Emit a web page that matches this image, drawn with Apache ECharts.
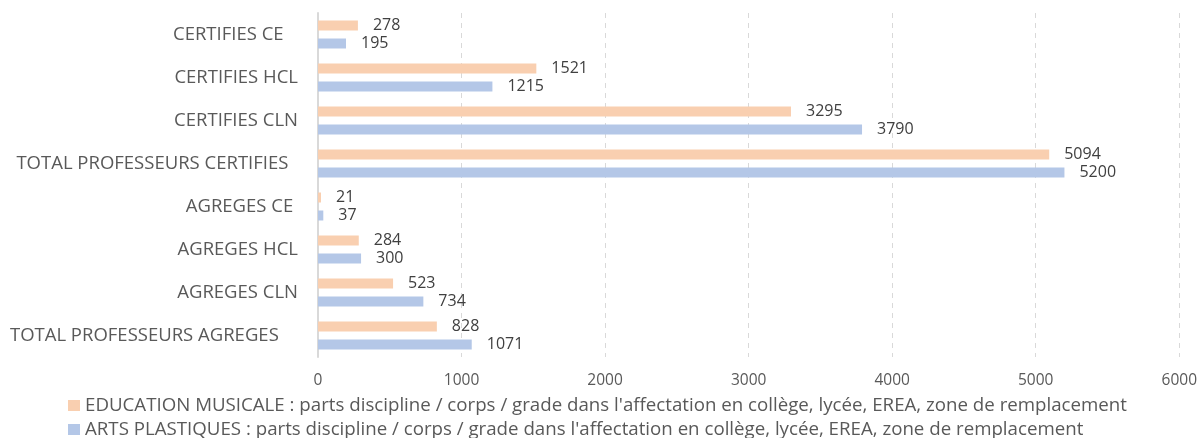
<!DOCTYPE html>
<html>
<head>
<meta charset="utf-8">
<script src="https://cdn.jsdelivr.net/npm/echarts@6/dist/echarts.min.js"></script>
<style>
  html, body { margin: 0; padding: 0; background: #fff; }
  #bars { width: 1200px; height: 438px; }
</style>
</head>
<body>
<div id="bars"></div>
<script>
// categories, bottom to top (ECharts category y axis starts at the bottom)
var categories = [
    'TOTAL PROFESSEURS AGREGES    ',
    'AGREGES CLN',
    'AGREGES HCL',
    'AGREGES CE ',
    'TOTAL PROFESSEURS CERTIFIES  ',
    'CERTIFIES CLN',
    'CERTIFIES HCL',
    'CERTIFIES CE   '
];
var musique = [828, 523, 284, 21, 5094, 3295, 1521, 278];
var artsPlastiques = [1071, 734, 300, 37, 5200, 3790, 1215, 195];
var seriesNames = [
    "EDUCATION MUSICALE : parts discipline / corps / grade dans l'affectation en collège, lycée, EREA, zone de remplacement",
    "ARTS PLASTIQUES : parts discipline / corps / grade dans l'affectation en collège, lycée, EREA, zone de remplacement"
];

(function drawBars() {
    var chartDom = document.getElementById('bars');
    var myChart = echarts.init(chartDom);
    var font = "'Open Sans', sans-serif";
    var option;

    var barLabel = {
        show: true,
        position: 'right',
        distance: 15,
        color: '#404040',
        fontSize: 16,
        fontFamily: font
    };

    // one legend per line, like the original
    function legendRow(name, top) {
        return {
            left: 63,
            top: top,
            itemWidth: 12,
            itemHeight: 11,
            icon: 'rect',
            textStyle: { color: '#595959', fontSize: 18.7, fontFamily: font },
            data: [name]
        };
    }

    option = {
        color: ['#F9CFB0', '#B4C7E7'],
        animation: false,
        textStyle: { fontFamily: font },
        legend: [
            legendRow(seriesNames[0], 391),
            legendRow(seriesNames[1], 415)
        ],
        grid: {
            left: 318,
            right: 19,
            top: 13,
            bottom: 81,
            containLabel: false
        },
        xAxis: {
            type: 'value',
            min: 0,
            max: 6000,
            interval: 1000,
            axisLine: { show: false },
            axisTick: { show: false },
            axisLabel: {
                color: '#595959',
                fontSize: 15.5,
                margin: 16,
                formatter: function (v) { return String(v); }
            },
            splitLine: {
                lineStyle: { color: '#d9d9d9', type: [5, 5], width: 1 }
            }
        },
        yAxis: {
            type: 'category',
            data: categories,
            axisLine: { show: true, lineStyle: { color: '#d9d9d9', width: 2 } },
            axisTick: { show: false },
            axisLabel: { color: '#595959', fontSize: 18.5, margin: 20 }
        },
        series: [
            {
                name: seriesNames[0],
                type: 'bar',
                barWidth: 10,
                barGap: '80%',
                label: barLabel,
                data: musique,
                z: 3
            },
            {
                name: seriesNames[1],
                type: 'bar',
                barWidth: 10,
                barGap: '80%',
                label: barLabel,
                data: artsPlastiques,
                z: 2
            }
        ]
    };

    option && myChart.setOption(option);
})();
</script>
</body>
</html>
